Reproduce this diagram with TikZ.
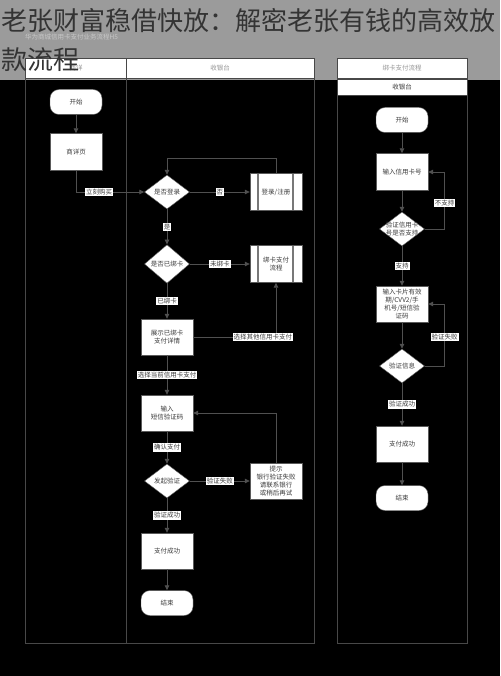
\documentclass[tikz,border=0pt]{standalone}
\usepackage{fontspec}
\setmainfont{Noto Sans CJK SC}
\usepackage{tikz}
\usetikzlibrary{arrows.meta,positioning,calc,shapes.geometric}
\usepackage{xcolor}
\definecolor{bandgray}{RGB}{155,155,155}
\definecolor{titleink}{RGB}{52,52,52}
\definecolor{faintink}{RGB}{200,200,200}
\definecolor{hdrink}{RGB}{150,150,150}
\definecolor{laneline}{RGB}{72,72,72}
\definecolor{flowgray}{RGB}{80,80,80}
\definecolor{nodeframe}{RGB}{90,90,90}
\definecolor{nodeink}{RGB}{60,60,60}
\definecolor{subline}{RGB}{120,120,120}
\newcommand{\flowfont}{\fontsize{6.5}{8}\selectfont}

\begin{document}
\begin{tikzpicture}[
    x=1pt,y=-1pt,
    proc/.style={draw=nodeframe,fill=white,minimum width=52pt,minimum height=37pt,align=center,font=\flowfont,text=nodeink,inner sep=1pt},
    term/.style={proc,rounded corners=9pt,minimum height=25pt},
    decide/.style={diamond,draw=nodeframe,fill=white,minimum width=45pt,minimum height=34pt,inner sep=0pt,align=center,font=\flowfont,text=nodeink},
    subproc/.style={proc,path picture={
        \draw[subline,line width=1.5pt]
          ([xshift=8pt]path picture bounding box.north west) -- ([xshift=8pt]path picture bounding box.south west)
          ([xshift=-9pt]path picture bounding box.north east) -- ([xshift=-9pt]path picture bounding box.south east);}},
    lbl/.style={fill=white,text=nodeink,font=\flowfont,inner sep=1pt},
    hdr/.style={fill=white,draw=laneline,line width=0.6pt},
    flow/.style={draw=flowgray,line width=0.8pt,-{Triangle[length=5pt,width=4.5pt]}}
]
\useasboundingbox (0,0) rectangle (500,676);
\fill[black] (0,0) rectangle (500,676);
\fill[bandgray] (0,0) rectangle (500,80);

% lanes
\draw[laneline,line width=0.8pt] (25,78) rectangle (314,643);
\draw[laneline,line width=0.8pt] (126,78) -- (126,643);
\draw[hdr] (25,58) rectangle (126,78);
\draw[hdr] (126,58) rectangle (314,78);
\draw[laneline,line width=0.8pt] (337,95) rectangle (467,643);
\draw[hdr] (337,58) rectangle (467,78);
\draw[hdr] (337,79) rectangle (467,95);
\node[font=\flowfont,text=hdrink] (laneA) at (76,68) {商详};
\node[font=\flowfont,text=hdrink] (laneB) at (220,68) {收银台};
\node[font=\flowfont,text=hdrink] (laneC) at (402,68) {绑卡支付流程};
\node[font=\flowfont,text=nodeink] (laneD) at (402,87) {收银台};
\node[font=\fontsize{6.5}{8}\selectfont,text=faintink,anchor=west,inner sep=0pt] (subtitle) at (25,37) {华为商城信用卡支付业务流程H5};

% title
\node[font=\fontsize{26}{30}\selectfont,text=titleink,anchor=west,inner sep=0pt] (title1) at (1,21) {老张财富稳借快放：解密老张有钱的高效放};
\node[font=\fontsize{26}{30}\selectfont,text=titleink,anchor=west,inner sep=0pt] (title2) at (1,60) {款流程};

% checkout flow
\node[term] (start) at (76,102) {开始};
\node[proc] (spage) at (76,152) {商详页};
\node[decide] (login) at (167,192) {是否登录};
\node[subproc] (reg) at (276,192) {登录/注册};
\node[decide] (bound) at (167,264) {是否已绑卡};
\node[subproc] (bindflow) at (276,264) {绑卡支付\\流程};
\node[proc,minimum height=36pt] (cardinfo) at (167,337) {展示已绑卡\\支付详情};
\node[proc,minimum height=36pt] (smscode) at (167,413) {输入\\短信验证码};
\node[decide] (verify) at (167,481) {发起验证};
\node[proc,minimum height=36pt] (failtip) at (276,481) {提示\\银行验证失败\\请联系银行\\或稍后再试};
\node[proc,minimum height=36pt] (paid) at (167,551) {支付成功};
\node[term] (finish) at (167,603) {结束};

\draw[flow] (start) -- (spage);
\draw[flow] (spage.south) |- (login.west) node[lbl,pos=0.67] {立刻购买};
\draw[flow] (login) -- (reg) node[lbl,midway] {否};
\draw[flow] (reg.north) -- ++(0,-15) -| (login.north);
\draw[flow] (login) -- (bound) node[lbl,midway] {是};
\draw[flow] (bound) -- (bindflow) node[lbl,midway] {未绑卡};
\draw[flow] (bound) -- (cardinfo) node[lbl,midway] {已绑卡};
\draw[flow] (cardinfo.east) -| (bindflow.south) node[lbl,pos=0.42] {选择其他信用卡支付};
\draw[flow] (cardinfo) -- (smscode) node[lbl,midway] {选择当前信用卡支付};
\draw[flow] (smscode) -- (verify) node[lbl,midway] {确认支付};
\draw[flow] (verify) -- (failtip) node[lbl,midway] {验证失败};
\draw[flow] (failtip.north) |- (smscode.east);
\draw[flow] (verify) -- (paid) node[lbl,midway] {验证成功};
\draw[flow] (paid) -- (finish);

% bind card flow
\node[term] (bstart) at (402,120) {开始};
\node[proc] (cardno) at (402,172) {输入信用卡号};
\node[decide,label={[font=\flowfont,text=nodeink,align=center]center:验证信用卡\\号是否支持}] (cardcheck) at (402,229) {};
\node[proc,minimum height=36pt] (cardmeta) at (402,304) {输入卡片有效\\期/CVV2/手\\机号/短信验\\证码};
\node[decide] (infocheck) at (402,366) {验证信息};
\node[proc,minimum height=36pt] (bpaid) at (402,444) {支付成功};
\node[term] (bend) at (402,498) {结束};

\draw[flow] (bstart) -- (cardno);
\draw[flow] (cardno) -- (cardcheck);
\draw[flow] (cardcheck.east) -- ++(20,0) |- (cardno.east) node[lbl,pos=0.23] {不支持};
\draw[flow] (cardcheck) -- (cardmeta) node[lbl,midway] {支持};
\draw[flow] (cardmeta) -- (infocheck);
\draw[flow] (infocheck.east) -- ++(20,0) |- (cardmeta.east) node[lbl,pos=0.23] {验证失败};
\draw[flow] (infocheck) -- (bpaid) node[lbl,midway] {验证成功};
\draw[flow] (bpaid) -- (bend);
\end{tikzpicture}
\end{document}
